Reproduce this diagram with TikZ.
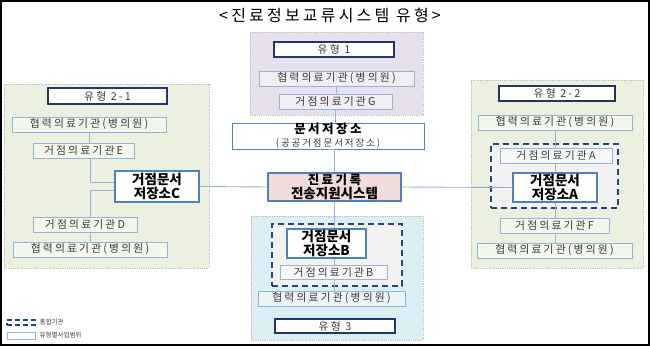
\documentclass[tikz,border=0pt]{standalone}
\usepackage{fontspec}
\setmainfont{Noto Sans CJK KR}
\newfontfamily\krspaced[LetterSpace=20]{Noto Sans CJK KR}
\usetikzlibrary{positioning,calc}

\definecolor{bgpurple}{HTML}{E5E0EC}
\definecolor{bggreen}{HTML}{EBF1DE}
\definecolor{bgblue}{HTML}{DBEEF4}
\definecolor{bgpink}{HTML}{F2DCDB}
\definecolor{navyline}{HTML}{1F3864}
\definecolor{dashline}{HTML}{1F497D}
\definecolor{hubline}{HTML}{4F81BD}
\definecolor{linkline}{HTML}{95B3D7}
\definecolor{grpline}{HTML}{BFBFBF}
\definecolor{labeltext}{HTML}{3A3A3A}

\begin{document}
\begin{tikzpicture}[
    x=1pt,
    y=-1pt,
    group/.style={
        rectangle,
        draw=grpline,
        densely dotted,
        line width=0.8pt,
        inner sep=0pt
      },
    typebox/.style={
        rectangle,
        draw=navyline,
        line width=1.6pt,
        fill=white,
        minimum height=15,
        inner sep=0pt,
        text=labeltext,
        font=\krspaced\fontsize{10.8}{12}\selectfont
      },
    unit/.style={
        rectangle,
        draw=linkline,
        line width=1pt,
        fill=white,
        fill opacity=0.45,
        text opacity=1,
        minimum height=15,
        inner sep=0pt,
        text=labeltext,
        font=\krspaced\fontsize{10.8}{12}\selectfont
      },
    hub/.style={
        rectangle,
        draw=hubline,
        line width=1.3pt,
        fill=white,
        inner sep=0pt,
        align=center,
        font=\bfseries\fontsize{13.5}{14}\selectfont
      },
    zone/.style={
        rectangle,
        draw=dashline,
        dash pattern=on 6pt off 4pt,
        line width=1.6pt,
        fill=black!5,
        inner sep=0pt
      },
    link/.style={draw=linkline, line width=0.9pt}
    ]

    \useasboundingbox (0,0) rectangle (650,346);
    \draw[black, line width=2pt] (1,1) rectangle (649,345);

    \node (title) at (330,15) {\krspaced\fontsize{16}{18}\selectfont <진료정보교류시스템 유형>};

    % group frames
    \node[group, fill=bgpurple, minimum width=173, minimum height=83] (grp1) at (336.5,73.5) {};
    \node[group, fill=bggreen, minimum width=205, minimum height=184] (grp21) at (106.5,176) {};
    \node[group, fill=bggreen, minimum width=172, minimum height=188] (grp22) at (557,174) {};
    \node[group, fill=bgblue, minimum width=172, minimum height=124] (grp3) at (337,278) {};

    % type 1
    \node[typebox, minimum width=120] (type1) at (334,49.5) {유형 1};
    \node[unit, minimum width=155] (coopP) at (336.5,78.5) {협력의료기관(병의원)};
    \node[unit, minimum width=113] (baseG) at (335.5,101.5) {거점의료기관G};

    % centre
    \node[hub, line width=1pt, minimum width=192, minimum height=26] (store) at (328,136)
      {\krspaced\bfseries\fontsize{12.5}{13}\selectfont 문서저장소\\[-1pt]
       {\krspaced\mdseries\color{labeltext}\fontsize{9.5}{11}\selectfont (공공거점문서저장소)}};
    \node[hub, fill=bgpink, minimum width=133, minimum height=28] (relay) at (334.5,187)
      {\krspaced\fontsize{12.5}{13.5}\selectfont 진료기록\\전송지원시스템};

    % type 2-1
    \node[typebox, minimum width=119, minimum height=16] (type21) at (107.5,96) {유형 2-1};
    \node[unit, minimum width=154] (coopLt) at (89,124.5) {협력의료기관(병의원)};
    \node[unit, minimum width=101] (baseE) at (83.5,150.5) {거점의료기관E};
    \node[hub, minimum width=84, minimum height=31] (hubC) at (157,186.5) {거점문서\\저장소C};
    \node[unit, minimum width=104] (baseD) at (85,224.5) {거점의료기관D};
    \node[unit, minimum width=154] (coopLb) at (90,249.5) {협력의료기관(병의원)};

    % type 2-2
    \node[typebox, minimum width=116] (type22) at (557,93.5) {유형 2-2};
    \node[unit, minimum width=154] (coopRt) at (555,122.5) {협력의료기관(병의원)};
    \node[zone, minimum width=127, minimum height=64] (zoneA) at (554.5,176) {};
    \node[unit, minimum width=112] (baseA) at (556,155.5) {거점의료기관A};
    \node[hub, minimum width=84, minimum height=29] (hubA) at (555,187.5) {거점문서\\저장소A};
    \node[unit, minimum width=109] (baseF) at (554.5,225.5) {거점의료기관F};
    \node[unit, minimum width=155] (coopRb) at (554.5,250.5) {협력의료기관(병의원)};

    % type 3
    \node[zone, minimum width=130, minimum height=62] (zoneB) at (337,255) {};
    \node[hub, minimum width=79, minimum height=29] (hubB) at (326.5,243.5) {거점문서\\저장소B};
    \node[unit, minimum width=107, minimum height=14] (baseB) at (333.5,272) {거점의료기관B};
    \node[unit, minimum width=147] (coopB) at (331.5,298.5) {협력의료기관(병의원)};
    \node[typebox, minimum width=120, minimum height=14] (type3) at (335,326) {유형 3};

    % legend
    \node[zone, line width=1.2pt, dash pattern=on 5pt off 3pt, fill=none, minimum width=28, minimum height=5] (keyzone) at (21,322.5) {};
    \node[right=4pt of keyzone, inner sep=0pt, text=labeltext, font=\fontsize{6.5}{7}\selectfont] (keyzonetxt) {통합기관};
    \node[rectangle, draw=linkline, line width=0.8pt, minimum width=28, minimum height=7, inner sep=0pt] (keyscope) at (21,335.5) {};
    \node[right=4pt of keyscope, inner sep=0pt, text=labeltext, font=\fontsize{6.5}{7}\selectfont] (keyscopetxt) {유형별사업범위};

    % connectors
    \draw[link] (coopP)--(coopP |- baseG.north);
    \draw[link] (baseG.south)--(baseG.south |- store.north);
    \draw[link] (store.south)--(store.south -| relay.north) (relay.north |- store.south)--(relay.north);
    \draw[link] (relay.south)--(relay.south |- hubB.north);
    \draw[link] (relay.south |- hubB.south)--(relay.south |- baseB.north);
    \draw[link] (relay.south |- baseB.south)--(relay.south |- coopB.north);
    \draw[link] (hubC.east)--(relay.west);
    \draw[link] (relay.east)--(hubA.west);

    \draw[link] (coopLt.south)--(coopLt.south |- baseE.north);
    \draw[link] ([xshift=1pt]coopLt.south |- baseE.south) |- ([yshift=4pt]hubC.west);
    \draw[link] ([yshift=-4pt]hubC.west) -| ([xshift=1pt]coopLt.south |- baseD.north);
    \draw[link] ([xshift=1pt]coopLt.south |- baseD.south)--([xshift=1pt]coopLt.south |- coopLb.north);

    \draw[link] (coopRt.south)--(coopRt.south |- baseA.north);
    \draw[link] (coopRt.south |- baseA.south)--(hubA.north);
    \draw[link] (hubA.south)--(hubA.south |- baseF.north);
    \draw[link] (hubA.south |- baseF.south)--(hubA.south |- coopRb.north);

  \end{tikzpicture}
\end{document}
